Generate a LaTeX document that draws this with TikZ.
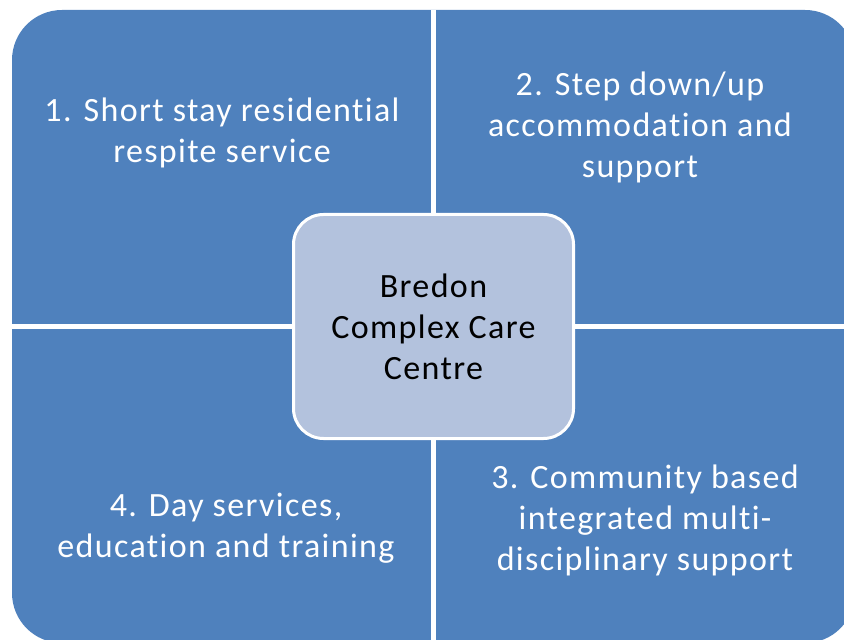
\documentclass[tikz,border=0pt]{standalone}
\usepackage{fontspec}
\setmainfont{Carlito}[LetterSpace=4,Ligatures={NoCommon,NoRare,NoDiscretionary}]
\usepackage{tikz}
\usetikzlibrary{positioning}

\definecolor{quadblue}{HTML}{4F81BD}
\definecolor{hubblue}{HTML}{B3C2DD}

\tikzset{
  quadtext/.style={text=white,align=center,inner sep=0pt,
    font=\fontsize{17}{20.5}\selectfont},
  hubbox/.style={draw=white,line width=1.5pt,fill=hubblue,rounded corners=15pt,
    minimum width=140pt,minimum height=112pt,align=center,
    font=\fontsize{17}{20.5}\selectfont}
}

\begin{document}
\begin{tikzpicture}[x=0.5pt,y=-0.5pt]
  \useasboundingbox (0,0) rectangle (844,640);
  \fill[quadblue,rounded corners=25pt] (12,10) rectangle (855,643);
  \path[draw=white,line width=2.5pt]
    (433.5,10) -- (433.5,643)
    (12,326.5) -- (855,326.5);
  \node[quadtext] (short) at (222,133) {1. Short stay residential\\respite service};
  \node[quadtext] (step) at (640,127) {2. Step down/up\\accommodation and\\support};
  \node[quadtext] (comm) at (645,520) {3. Community based\\integrated multi-\\disciplinary support};
  \node[quadtext] (day) at (226,528) {4. Day services,\\education and training};
  \node[hubbox] (hub) at (433.5,326.5) {Bredon\\Complex Care\\Centre};
\end{tikzpicture}
\end{document}
